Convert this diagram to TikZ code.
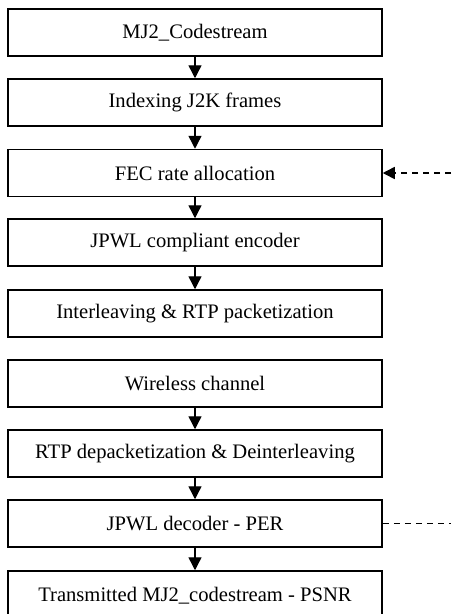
\documentclass[tikz,border=0pt]{standalone}
\usepackage{fontspec}
\setmainfont{Liberation Serif}
\usetikzlibrary{arrows.meta}
\begin{document}
\begin{tikzpicture}[x=1pt,y=-1pt,
  blk/.style={draw,line width=1.5pt,minimum width=374pt,minimum height=47pt,inner sep=0pt,
    font=\fontsize{20.6}{24}\selectfont},
  flow/.style={line width=1.4pt,-{Triangle[length=13pt,width=13pt]}},
  fb/.style={line width=1.5pt,dash pattern=on 6pt off 5pt}]
\useasboundingbox (0,0) rectangle (451,614);
\node[blk] (b1) at (195,32.5) {MJ2\_Codestream};
\node[blk] (b2) at (195,102.5) {Indexing J2K frames};
\node[blk] (b3) at (195,173) {FEC rate allocation};
\node[blk] (b4) at (195,242.5) {JPWL compliant encoder};
\node[blk] (b5) at (195,313.5) {Interleaving \& RTP packetization};
\node[blk] (b6) at (195,383.5) {Wireless channel};
\node[blk] (b7) at (195,453.5) {RTP depacketization \& Deinterleaving};
\node[blk] (b8) at (195,523.5) {JPWL decoder - PER};
\node[blk,minimum height=56pt,text depth=10pt] (b9) at (195,599) {Transmitted MJ2\_codestream - PSNR};
\draw[flow] (b1) -- (b2);
\draw[flow] (b2) -- (b3);
\draw[flow] (b3) -- (b4);
\draw[flow] (b4) -- (b5);
\draw[flow] (b6) -- (b7);
\draw[flow] (b7) -- (b8);
\draw[flow] (b8) -- (b9);
\coordinate (fin) at (451,173);
\coordinate (fout) at (451,523.5);
\draw[fb,-{Triangle[length=12pt,width=12pt]}] (fin) -- (b3.east);
\draw[fb] (b8.east) -- (fout);
\end{tikzpicture}
\end{document}
